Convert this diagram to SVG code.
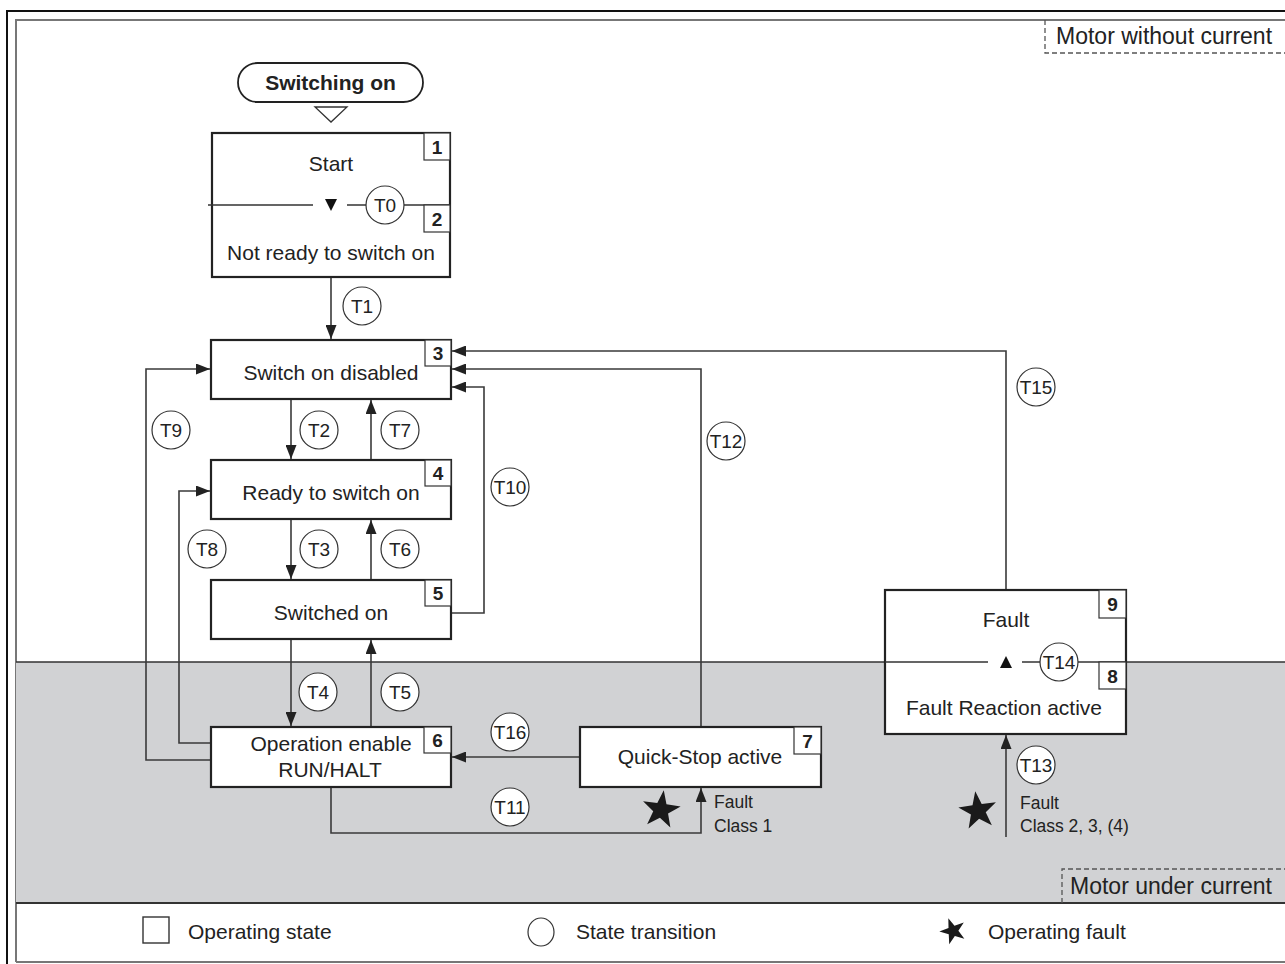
<svg xmlns="http://www.w3.org/2000/svg" width="1285" height="964" viewBox="0 0 1285 964">
<style>
text{font-family:"Liberation Sans",Arial,sans-serif;fill:#222}
.lbl{font-size:21px;text-anchor:middle}
.num{font-size:19px;font-weight:bold;text-anchor:middle}
.tc{font-size:19px;text-anchor:middle}
.sm{font-size:17.5px}
.box{fill:#fff;stroke:#222;stroke-width:2.2}
.nb{fill:#fff;stroke:#333;stroke-width:1.2}
.tr{fill:#fff;stroke:#333;stroke-width:1.2}
.con{fill:none;stroke:#3a3a3a;stroke-width:1.6}
.arr{fill:none;stroke:#3a3a3a;stroke-width:1.6;marker-end:url(#ah)}
.dash{fill:none;stroke:#555;stroke-width:1.3;stroke-dasharray:5 3}
</style>
<defs>
<marker id="ah" viewBox="0 0 14 11" refX="14" refY="5.5" markerWidth="14" markerHeight="11" markerUnits="userSpaceOnUse" orient="auto">
<path d="M0,0 L14,5.5 L0,11 Z" fill="#222"/>
</marker>
<path id="star" d="M0,-19 L4.41,-6.07 L18.07,-5.87 L7.13,2.32 L11.17,15.37 L0,7.5 L-11.17,15.37 L-7.13,2.32 L-18.07,-5.87 L-4.41,-6.07 Z" fill="#1a1a1a"/>
</defs>
<rect x="0" y="0" width="1285" height="964" fill="#fff"/>
<!-- frame -->
<path d="M7,964 V11 H1285" fill="none" stroke="#111" stroke-width="2"/>
<path d="M16,962 V20 H1285 M16,962 H1285" fill="none" stroke="#777" stroke-width="2"/>
<rect x="16" y="662" width="1269" height="241" fill="#d1d2d4"/>
<line x1="16" y1="903" x2="1285" y2="903" stroke="#333" stroke-width="2"/>
<path d="M16,662 H988 M1022,662 H1285" stroke="#333" stroke-width="1.6" fill="none"/>
<!-- zone labels -->
<g id="zone-without">
<path class="dash" d="M1045,20 V53 H1285"/>
<text x="1056" y="44" style="font-size:23px">Motor without current</text>
</g>
<g id="zone-under">
<path class="dash" d="M1062,903 V869 H1285"/>
<text x="1070" y="894" style="font-size:23px">Motor under current</text>
</g>
<!-- connectors -->
<g id="connectors">
<path class="arr" d="M331,277 V339"/>
<path class="arr" d="M291,399 V459"/>
<path class="arr" d="M371,460 V400"/>
<path class="arr" d="M291,519 V579"/>
<path class="arr" d="M371,580 V520"/>
<path class="arr" d="M291,639 V726"/>
<path class="arr" d="M371,727 V640"/>
<path class="arr" d="M211,760 H146 V369 H210"/>
<path class="arr" d="M211,743 H179 V491 H210"/>
<path class="arr" d="M451,613 H484 V387 H452"/>
<path class="arr" d="M701,727 V369 H452"/>
<path class="arr" d="M1006,590 V351 H452"/>
<path class="arr" d="M580,757 H452"/>
<path class="arr" d="M331,787 V833 H701 V788"/>
<path class="arr" d="M1006,837 V735"/>
</g>
<!-- switching on -->
<g id="switching-on">
<rect x="238" y="63" width="185" height="39" rx="19.5" fill="#fff" stroke="#222" stroke-width="1.8"/>
<text x="330.5" y="90" style="font-size:21px;font-weight:bold;text-anchor:middle">Switching on</text>
<polygon points="315,107 347,107 331,122" fill="#fff" stroke="#333" stroke-width="1.3"/>
</g>
<!-- state 1/2 -->
<g id="state-1-2">
<rect class="box" x="212" y="133" width="238" height="144"/>
<path d="M208,205 H313 M347,205 H450" stroke="#333" stroke-width="1.4" fill="none"/>
<polygon points="325,199 337,199 331,211" fill="#111"/>
<rect class="nb" x="424" y="133" width="26" height="27"/>
<text class="num" x="437" y="154">1</text>
<rect class="nb" x="424" y="205" width="26" height="27"/>
<text class="num" x="437" y="226">2</text>
<text class="lbl" x="331" y="171">Start</text>
<text class="lbl" x="331" y="260">Not ready to switch on</text>
</g>
<g id="state-3">
<rect class="box" x="211" y="340" width="240" height="59"/>
<rect class="nb" x="425" y="340" width="26" height="26"/>
<text class="num" x="438" y="360">3</text>
<text class="lbl" x="331" y="380">Switch on disabled</text>
</g>
<g id="state-4">
<rect class="box" x="211" y="460" width="240" height="59"/>
<rect class="nb" x="425" y="460" width="26" height="26"/>
<text class="num" x="438" y="480">4</text>
<text class="lbl" x="331" y="500">Ready to switch on</text>
</g>
<g id="state-5">
<rect class="box" x="211" y="580" width="240" height="59"/>
<rect class="nb" x="425" y="580" width="26" height="26"/>
<text class="num" x="438" y="600">5</text>
<text class="lbl" x="331" y="620">Switched on</text>
</g>
<g id="state-6">
<rect class="box" x="211" y="727" width="240" height="60"/>
<rect class="nb" x="424" y="727" width="27" height="26"/>
<text class="num" x="437.5" y="747">6</text>
<text class="lbl" x="331" y="751">Operation enable</text>
<text class="lbl" x="330" y="777">RUN/HALT</text>
</g>
<g id="state-7">
<rect class="box" x="580" y="727" width="241" height="60"/>
<rect class="nb" x="794" y="727" width="27" height="27"/>
<text class="num" x="807.5" y="748">7</text>
<text class="lbl" x="700" y="764">Quick-Stop active</text>
</g>
<g id="state-8-9">
<rect class="box" x="885" y="590" width="241" height="144"/>
<path d="M885,662 H988 M1022,662 H1126" stroke="#333" stroke-width="1.4" fill="none"/>
<polygon points="1000,668 1012,668 1006,656" fill="#111"/>
<rect class="nb" x="1099" y="590" width="27" height="28"/>
<text class="num" x="1112.5" y="611">9</text>
<rect class="nb" x="1099" y="662" width="27" height="27"/>
<text class="num" x="1112.5" y="683">8</text>
<text class="lbl" x="1006" y="627">Fault</text>
<text class="lbl" x="1004" y="715">Fault Reaction active</text>
</g>
<!-- transitions -->
<g id="transitions">
<circle class="tr" cx="385" cy="205" r="19"/><text class="tc" x="385" y="212">T0</text>
<circle class="tr" cx="362" cy="306" r="19"/><text class="tc" x="362" y="313">T1</text>
<circle class="tr" cx="319" cy="430" r="19"/><text class="tc" x="319" y="437">T2</text>
<circle class="tr" cx="400" cy="430" r="19"/><text class="tc" x="400" y="437">T7</text>
<circle class="tr" cx="171" cy="430" r="19"/><text class="tc" x="171" y="437">T9</text>
<circle class="tr" cx="510" cy="487" r="19"/><text class="tc" x="510" y="494">T10</text>
<circle class="tr" cx="319" cy="549" r="19"/><text class="tc" x="319" y="556">T3</text>
<circle class="tr" cx="400" cy="549" r="19"/><text class="tc" x="400" y="556">T6</text>
<circle class="tr" cx="207" cy="549" r="19"/><text class="tc" x="207" y="556">T8</text>
<circle class="tr" cx="318" cy="692" r="19"/><text class="tc" x="318" y="699">T4</text>
<circle class="tr" cx="400" cy="692" r="19"/><text class="tc" x="400" y="699">T5</text>
<circle class="tr" cx="510" cy="732" r="19"/><text class="tc" x="510" y="739">T16</text>
<circle class="tr" cx="510" cy="807" r="19"/><text class="tc" x="510" y="814">T11</text>
<circle class="tr" cx="726" cy="441" r="19"/><text class="tc" x="726" y="448">T12</text>
<circle class="tr" cx="1036" cy="387" r="19"/><text class="tc" x="1036" y="394">T15</text>
<circle class="tr" cx="1059" cy="662" r="19"/><text class="tc" x="1059" y="669">T14</text>
<circle class="tr" cx="1036" cy="765" r="19"/><text class="tc" x="1036" y="772">T13</text>
</g>
<!-- faults -->
<g id="fault-1">
<use href="#star" transform="translate(661,810) rotate(8) scale(1.05)"/>
<text class="sm" x="714" y="808">Fault</text>
<text class="sm" x="714" y="832">Class 1</text>
</g>
<g id="fault-2">
<use href="#star" transform="translate(978,811) rotate(-8) scale(1.05)"/>
<text class="sm" x="1020" y="809">Fault</text>
<text class="sm" x="1020" y="832">Class 2, 3, (4)</text>
</g>
<!-- legend -->
<g id="legend">
<rect x="143" y="917" width="26" height="26" fill="#fff" stroke="#333" stroke-width="1.4"/>
<text x="188" y="939" style="font-size:21px">Operating state</text>
<ellipse cx="541" cy="932" rx="13" ry="14" fill="#fff" stroke="#333" stroke-width="1.2"/>
<text x="576" y="939" style="font-size:21px">State transition</text>
<use href="#star" transform="translate(953,931) rotate(-20) scale(0.72)"/>
<text x="988" y="939" style="font-size:21px">Operating fault</text>
</g>
</svg>
